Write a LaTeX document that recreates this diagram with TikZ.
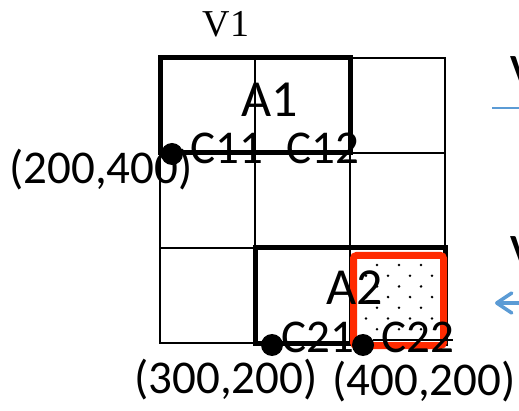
\documentclass[tikz,border=0pt]{standalone}
\usepackage{fontspec}
\setmainfont{Liberation Serif}
\setsansfont{Carlito}
\usetikzlibrary{arrows.meta,positioning}
\definecolor{hot}{HTML}{FF2A00}
\definecolor{sky}{HTML}{5B9BD5}
\tikzset{
  cell/.style={draw,line width=1.4pt,minimum size=95pt,inner sep=0pt,outer sep=0pt},
  blk/.style={draw,line width=5pt},
  hit/.style={draw=hot,line width=7pt,rounded corners=3pt,fill=white,minimum size=90pt,inner sep=0pt},
  pt/.style={circle,fill=black,minimum size=22pt,inner sep=0pt},
  lbl/.style={font=\sffamily\fontsize{47}{47}\selectfont,inner sep=0pt},
  big/.style={font=\sffamily\fontsize{52}{52}\selectfont,inner sep=0pt},
  ttl/.style={font=\fontsize{38}{38}\selectfont,inner sep=0pt},
  ln/.style={draw=sky,line width=1.5pt},
  ar/.style={-{Straight Barb[round,length=15pt,width=20pt]},line width=3.5pt,line cap=round,draw=sky},
}
\begin{document}
\begin{tikzpicture}[x=1pt,y=-1pt]
\useasboundingbox (0,0) rectangle (519,411);

% grid of cells
\foreach \r in {1,2,3}
  \foreach \c in {1,2,3}
    \node[cell] (c\r\c) at ({112.5+95*\c},{10.5+95*\r}) {};

% blocks A1 and A2
\draw[blk] (c11.north west) rectangle (c12.south east);
\draw[blk] (c32.north west) rectangle (c33.south east);

% selected cell
\node[hit] (sel) at (398.5,300.5) {};
\foreach \i in {0,...,6}{
  \ifodd\i
    \foreach \x in {366,388,410,432} \fill (\x,{265+10.7*\i}) circle (1.4pt);
  \else
    \foreach \x in {377,399,421} \fill (\x,{265+10.7*\i}) circle (1.4pt);
  \fi
}

% labels
\node[ttl] (v1) at (226,24) {V1};
\node[big] (a1) at (270,100) {A1};
\node[big] (a2) at (355,288) {A2};
\node[lbl] (k11) at (226.5,148) {C11};
\node[lbl] (k12) at (323,148) {C12};
\node[lbl] (k21) at (317.5,337) {C21};
\node[lbl] (k22) at (418,337) {C22};
\node[lbl] (p1) at (101,170) {(200,400)};
\node[lbl] (p2) at (226,380) {(300,200)};
\node[lbl] (p3) at (424,382) {(400,200)};

\coordinate (u1) at (373,340);
\coordinate (u2) at (453,340);
\draw[line width=2.5pt] (u1) -- (u2);

% corner points
\node[pt] (d1) at (172,154) {};
\node[pt] (d2) at (272,345) {};
\node[pt] (d3) at (363,345) {};

% right edge, cut off
\node[lbl,font=\sffamily\bfseries\fontsize{40}{40}\selectfont,anchor=base west] (w1) at (510,83) {V};
\node[lbl,font=\sffamily\bfseries\fontsize{40}{40}\selectfont,anchor=base west] (w2) at (510,263) {V};
\coordinate (l1) at (492,108);
\coordinate (l2) at (525,108);
\draw[ln] (l1) -- (l2);
\coordinate (t1) at (495,303);
\coordinate (t2) at (530,303);
\draw[ar] (t2) -- (t1);
\end{tikzpicture}
\end{document}
